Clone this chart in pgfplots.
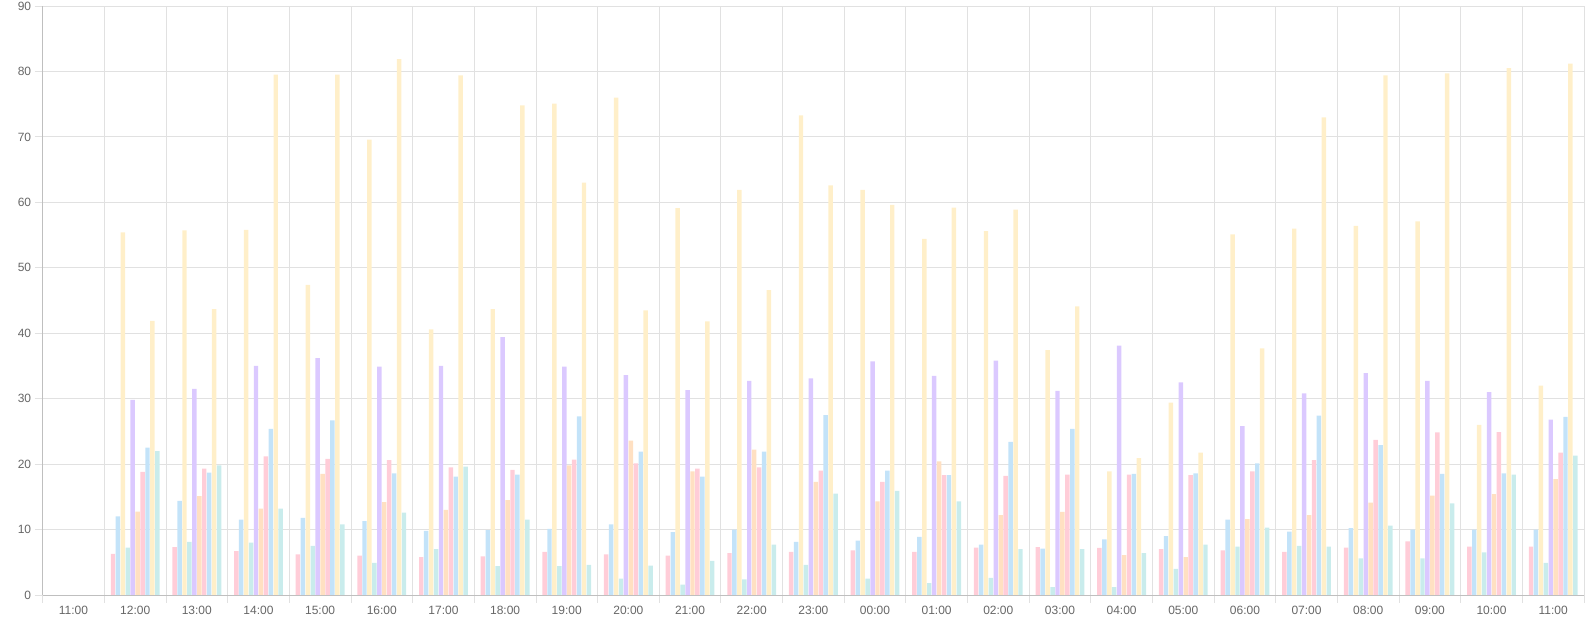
\documentclass[border=0pt]{standalone}
\usepackage{pgfplots}
\pgfplotsset{compat=1.18}
\usepackage{pgfplotstable}
\usepackage{fontspec}
\setmainfont{Liberation Sans}
\definecolor{cpink}{RGB}{255,99,132}
\definecolor{cblue}{RGB}{54,162,235}
\definecolor{cyell}{RGB}{255,206,86}
\definecolor{cteal}{RGB}{75,192,192}
\definecolor{cpurp}{RGB}{153,102,255}
\definecolor{coran}{RGB}{255,159,64}
\definecolor{labgray}{RGB}{102,102,102}
\definecolor{gridgray}{RGB}{225,225,225}

\pgfplotstableread{
x s1 s2 s3 s4 s5 s6 s7 s8 s9 s10
1 6.3 12.0 55.4 7.25 29.8 12.75 18.8 22.5 41.9 22.0
2 7.3 14.4 55.7 8.1 31.5 15.1 19.3 18.7 43.7 19.8
3 6.7 11.5 55.8 8.0 35.0 13.2 21.2 25.4 79.5 13.2
4 6.2 11.8 47.4 7.5 36.2 18.5 20.8 26.7 79.5 10.8
5 6.0 11.3 69.6 4.9 34.9 14.2 20.6 18.6 81.9 12.6
6 5.8 9.8 40.6 7.0 35.0 13.0 19.5 18.1 79.4 19.6
7 5.9 9.9 43.7 4.4 39.4 14.5 19.1 18.4 74.8 11.5
8 6.6 10.1 75.1 4.4 34.9 19.8 20.7 27.3 63.0 4.6
9 6.2 10.8 76.0 2.5 33.6 23.6 20.1 21.9 43.5 4.5
10 6.0 9.6 59.1 1.6 31.3 18.9 19.3 18.1 41.8 5.2
11 6.4 10.0 61.9 2.4 32.7 22.2 19.5 21.9 46.6 7.7
12 6.6 8.1 73.3 4.6 33.1 17.3 19.0 27.5 62.6 15.5
13 6.8 8.3 61.9 2.5 35.7 14.3 17.3 19.0 59.6 15.9
14 6.6 8.9 54.4 1.8 33.5 20.4 18.3 18.3 59.2 14.3
15 7.25 7.7 55.6 2.6 35.8 12.2 18.2 23.4 58.9 7.0
16 7.3 7.1 37.4 1.2 31.2 12.7 18.4 25.4 44.1 7.0
17 7.2 8.5 18.9 1.2 38.1 6.1 18.4 18.5 20.9 6.4
18 7.0 9.0 29.4 4.0 32.5 5.8 18.3 18.6 21.75 7.7
19 6.8 11.5 55.1 7.4 25.8 11.6 18.9 20.1 37.7 10.3
20 6.6 9.7 56.0 7.5 30.8 12.2 20.6 27.4 73.0 7.4
21 7.25 10.2 56.4 5.6 33.9 14.1 23.7 22.9 79.4 10.6
22 8.2 10.0 57.1 5.6 32.7 15.2 24.85 18.5 79.7 14.0
23 7.4 10.0 26.0 6.5 31.0 15.4 24.9 18.6 80.5 18.4
24 7.4 10.0 32.0 4.9 26.8 17.7 21.75 27.2 81.2 21.3
}\data

\begin{document}
\begin{tikzpicture}
\path[use as bounding box] (0,0) rectangle (1592pt,636pt);
\begin{axis}[
  at={(42.7pt,41pt)}, anchor=south west,
  scale only axis, width=1541.3pt, height=589pt,
  xmin=-0.5, xmax=24.5, ymin=0, ymax=90,
  ybar=0.493pt, bar width=4.44pt,
  xtick={0,...,24},
  xticklabels={11:00,12:00,13:00,14:00,15:00,16:00,17:00,18:00,19:00,20:00,21:00,22:00,23:00,00:00,01:00,02:00,03:00,04:00,05:00,06:00,07:00,08:00,09:00,10:00,11:00},
  minor xtick={-0.5,0.5,...,24.5},
  ytick={0,10,...,90},
  xminorgrids, ymajorgrids,
  grid style={draw=gridgray, line width=0.8pt},
  minor grid style={draw=gridgray, line width=0.8pt},
  tick align=outside,
  major tick length=8pt, minor tick length=8pt,
  major x tick style={draw=none},
  minor x tick style={draw=gridgray, line width=0.8pt},
  y tick style={draw=gridgray, line width=0.8pt},
  axis line style={draw=gridgray!85!black, line width=0.8pt},
  axis x line*=bottom, axis y line*=left,
  tick label style={font=\fontsize{12}{14}\selectfont, text=labgray},
  /pgf/number format/assume math mode=true,
  every axis plot/.append style={draw=none},
]
\addplot[fill=cpink!32] table[x=x,y=s1]{\data};
\addplot[fill=cblue!30] table[x=x,y=s2]{\data};
\addplot[fill=cyell!32] table[x=x,y=s3]{\data};
\addplot[fill=cteal!30] table[x=x,y=s4]{\data};
\addplot[fill=cpurp!35] table[x=x,y=s5]{\data};
\addplot[fill=coran!32] table[x=x,y=s6]{\data};
\addplot[fill=cpink!32] table[x=x,y=s7]{\data};
\addplot[fill=cblue!30] table[x=x,y=s8]{\data};
\addplot[fill=cyell!32] table[x=x,y=s9]{\data};
\addplot[fill=cteal!30] table[x=x,y=s10]{\data};
\end{axis}
\end{tikzpicture}
\end{document}
